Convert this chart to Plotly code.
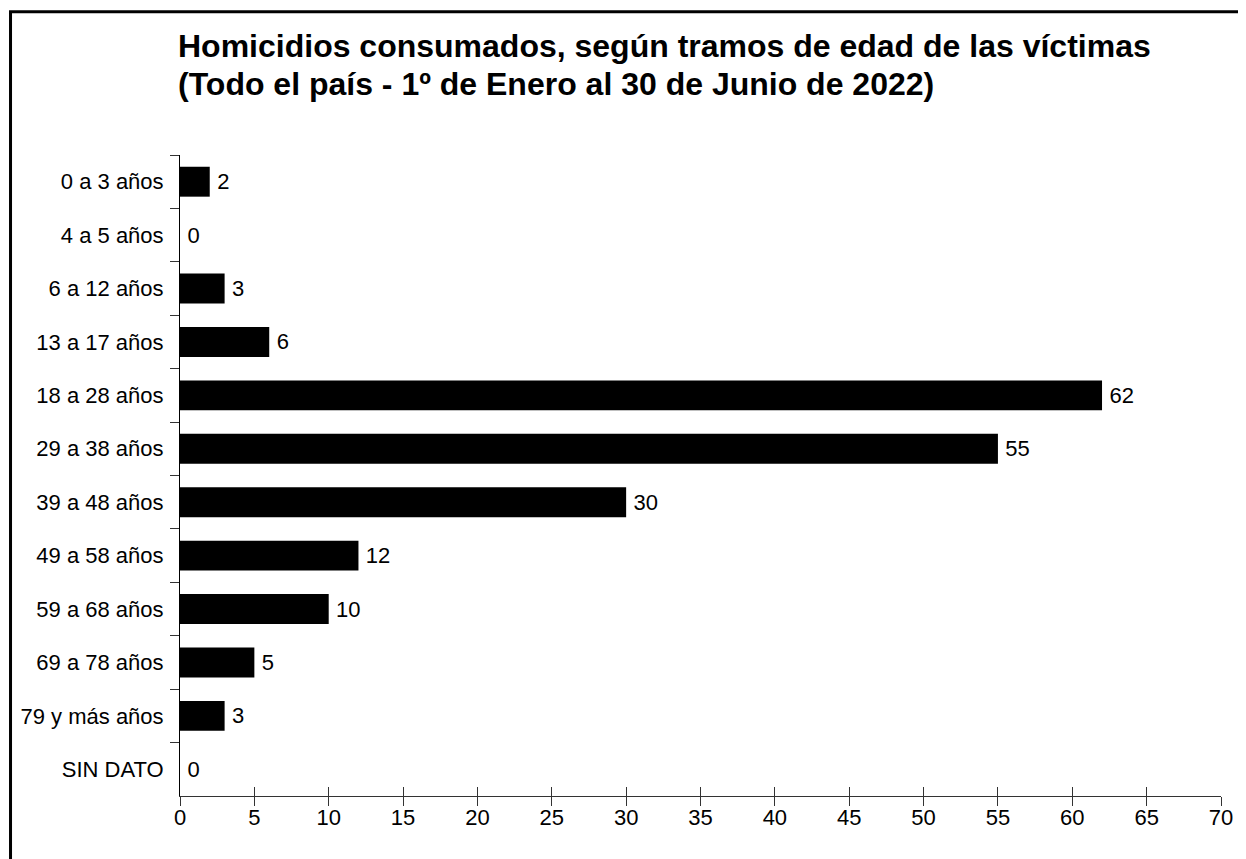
import plotly.graph_objects as go

categories = ["0 a 3 años", "4 a 5 años", "6 a 12 años", "13 a 17 años", "18 a 28 años",
              "29 a 38 años", "39 a 48 años", "49 a 58 años", "59 a 68 años",
              "69 a 78 años", "79 y más años", "SIN DATO"]
values = [2, 0, 3, 6, 62, 55, 30, 12, 10, 5, 3, 0]
x_ticks = list(range(0, 75, 5))
title_lines = ["Homicidios consumados, según tramos de edad de las víctimas",
               "(Todo el país - 1º de Enero al 30 de Junio de 2022)"]
title_y = [1.1693, 1.1115]

FONT = "Liberation Sans, Arial, sans-serif"

fig = go.Figure()
fig.add_trace(go.Bar(
    x=values, y=categories, orientation="h",
    marker=dict(color="black", line=dict(width=0)),
    text=["\u2009" + str(v) for v in values], textposition="outside",
    textfont=dict(family=FONT, size=22, color="black"),
    cliponaxis=False, hoverinfo="x+y",
))
fig.add_trace(go.Scatter(x=[None], y=[None], xaxis="x2", yaxis="y",
                         showlegend=False, hoverinfo="skip"))

annotations = [dict(text="<b>" + line + "</b>",
                    xref="paper", yref="paper", x=-0.004, y=ty,
                    xanchor="left", yanchor="middle", align="left", showarrow=False,
                    font=dict(family=FONT, size=32, color="black"))
               for line, ty in zip(title_lines, title_y)]

fig.update_layout(
    width=1238, height=851,
    margin=dict(l=172, r=25, t=147, b=63),
    paper_bgcolor="white", plot_bgcolor="white",
    showlegend=False, bargap=0.44,
    xaxis=dict(range=[0, 70], tickvals=x_ticks, ticks="outside", ticklen=9,
               tickcolor="#333", tickwidth=1, showline=True, linecolor="#333",
               linewidth=1, showgrid=False, zeroline=False, ticklabelstandoff=-7,
               tickfont=dict(family=FONT, size=22, color="black")),
    xaxis2=dict(range=[0, 70], tickvals=x_ticks, ticks="inside", ticklen=9,
                tickcolor="#333", tickwidth=1, overlaying="x", anchor="y",
                side="bottom", showticklabels=False, showline=False,
                showgrid=False, zeroline=False),
    yaxis=dict(autorange="reversed", ticks="outside", ticklen=9, tickson="boundaries",
               tickcolor="#333", tickwidth=1, showline=True, linecolor="black",
               linewidth=1, showgrid=False, zeroline=False, ticklabelstandoff=11,
               tickfont=dict(family=FONT, size=22, color="black")),
    annotations=annotations,
    shapes=[dict(type="rect", xref="paper", yref="paper",
                 x0=-0.1628, x1=1.2, y0=-0.3, y1=1.2234,
                 line=dict(color="black", width=3), fillcolor="rgba(0,0,0,0)", layer="above")],
)

fig.write_html("out.html")
